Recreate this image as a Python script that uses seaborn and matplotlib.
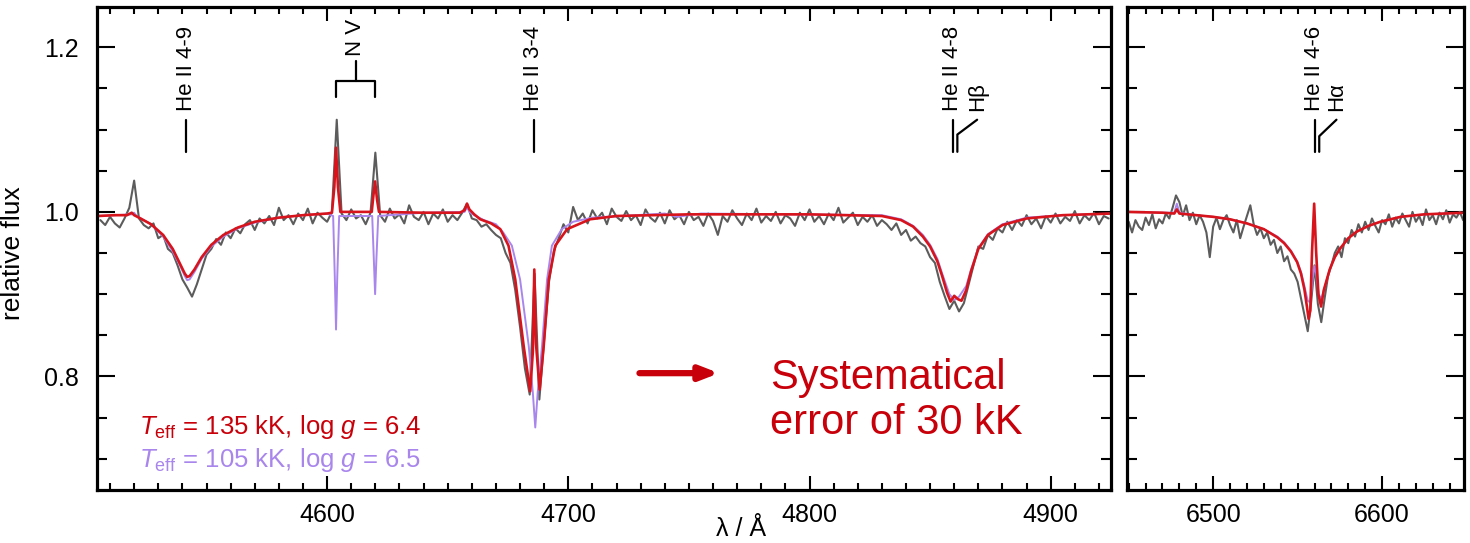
import numpy as np
import pandas as pd
import matplotlib
matplotlib.use("Agg")
import matplotlib.pyplot as plt
from matplotlib.ticker import MultipleLocator, FormatStrFormatter
import seaborn as sns

# ---------------- data ----------------
# observed spectrum, blue panel (2 A sampling starting 4506 A)
obs_blue_start, obs_blue_step = 4506, 2
obs_blue_flux = [
    0.990, 0.984, 0.994, 0.986, 0.981, 0.992, 1.005, 1.038, 0.992, 0.984,
    0.980, 0.986, 0.968, 0.972, 0.955, 0.950, 0.935, 0.918, 0.908, 0.897,
    0.912, 0.930, 0.948, 0.955, 0.967, 0.960, 0.975, 0.968, 0.980, 0.974,
    0.985, 0.990, 0.978, 0.992, 0.986, 0.995, 0.984, 1.005, 0.990, 0.996,
    0.985, 0.998, 0.990, 1.004, 0.986, 0.999, 0.993, 0.988, 1.000, 1.112,
    0.998, 0.990, 1.003, 0.992, 0.996, 0.985, 0.999, 1.072, 0.996, 0.988,
    1.004, 0.992, 0.997, 0.986, 1.008, 0.994, 0.990, 1.000, 0.985, 0.998,
    0.992, 1.003, 0.988, 0.996, 0.990, 0.999, 1.010, 0.992, 0.990, 0.982,
    0.985, 0.978, 0.972, 0.968, 0.950, 0.938, 0.905, 0.860, 0.810, 0.778,
    0.925, 0.772, 0.845, 0.915, 0.952, 0.968, 0.985, 0.975, 1.006, 0.990,
    0.998, 0.986, 1.002, 0.992, 0.999, 0.985, 1.004, 0.994, 0.989, 1.001,
    0.990, 0.996, 0.984, 1.003, 0.993, 0.988, 0.999, 0.986, 1.002, 0.991,
    0.996, 0.985, 1.000, 0.990, 0.994, 0.983, 0.998, 0.989, 0.972, 0.995,
    0.988, 1.002, 0.992, 0.984, 0.998, 0.990, 1.004, 0.987, 0.995, 0.989,
    1.000, 0.986, 0.996, 0.992, 0.983, 0.999, 0.990, 1.003, 0.988, 0.995,
    0.985, 0.998, 0.990, 1.005, 0.987, 0.993, 0.999, 0.984, 0.994, 0.988,
    0.996, 0.983, 0.990, 0.985, 0.978, 0.986, 0.972, 0.978, 0.965, 0.970,
    0.962, 0.958, 0.945, 0.938, 0.915, 0.898, 0.882, 0.892, 0.879, 0.889,
    0.912, 0.935, 0.958, 0.955, 0.972, 0.966, 0.980, 0.975, 0.988, 0.978,
    0.990, 0.983, 0.996, 0.985, 0.992, 0.980, 0.995, 0.987, 0.998, 0.986,
    0.994, 0.989, 1.001, 0.986, 0.996, 0.990, 0.999, 0.985, 0.995, 0.992,
]
# observed spectrum, H-alpha panel (2 A sampling starting 6450 A)
obs_red_start, obs_red_step = 6450, 2
obs_red_flux = [
    0.988, 0.975, 0.990, 0.982, 0.978, 0.993, 0.984, 0.997, 0.980, 0.991,
    0.986, 0.998, 0.992, 1.005, 1.020, 1.012, 0.995, 1.008, 0.990, 0.999,
    0.985, 0.996, 0.988, 0.975, 0.945, 0.982, 0.993, 0.979, 0.990, 0.996,
    0.984, 0.975, 0.990, 0.968, 0.982, 0.995, 1.008, 0.985, 0.972, 0.980,
    0.968, 0.975, 0.960, 0.966, 0.950, 0.958, 0.940, 0.946, 0.930, 0.925,
    0.915, 0.895, 0.875, 0.855, 0.890, 0.935, 0.888, 0.866, 0.895, 0.922,
    0.935, 0.950, 0.958, 0.945, 0.968, 0.962, 0.978, 0.970, 0.985, 0.975,
    0.988, 0.978, 0.992, 0.983, 0.975, 0.990, 0.985, 0.997, 0.982, 0.993,
    0.986, 0.998, 0.990, 0.982, 1.000, 0.988, 0.995, 0.984, 1.003, 0.990,
    0.996, 0.985, 0.999, 0.991, 1.002, 0.987, 0.997, 0.993, 1.000, 0.990,
]

# model 135 kK, log g 6.4 (red)
m135_blue_wave = [4505, 4512, 4517, 4519, 4520, 4522, 4527, 4532, 4536, 4539,
                  4541, 4542, 4543, 4545, 4548, 4552, 4557, 4563, 4570, 4580,
                  4590, 4600, 4602, 4603, 4603.7, 4604.5, 4605.5, 4618.5, 4619.2, 4619.9,
                  4620.7, 4621.5, 4640, 4655, 4657, 4658, 4659, 4661, 4663.5, 4668,
                  4671.8, 4675.2, 4678, 4681.5, 4684.2, 4685.3, 4685.9, 4686.6, 4688.1, 4689.8,
                  4691.9, 4694.6, 4699.5, 4709, 4720, 4750, 4800, 4830, 4838, 4843,
                  4847, 4850, 4853, 4855, 4857, 4858.5, 4860, 4861.5, 4863, 4865,
                  4867, 4870, 4874, 4880, 4890, 4905, 4925]
m135_blue_flux = [0.995, 0.996, 0.996, 0.999, 0.996, 0.993, 0.985, 0.972, 0.955, 0.937,
                  0.925, 0.921, 0.922, 0.930, 0.945, 0.960, 0.972, 0.981, 0.988, 0.993,
                  0.996, 0.998, 0.999, 1.030, 1.078, 1.030, 1.000, 1.000, 1.020, 1.037,
                  1.015, 1.000, 0.999, 0.999, 1.002, 1.010, 1.003, 0.997, 0.991, 0.986,
                  0.979, 0.959, 0.918, 0.837, 0.782, 0.830, 0.930, 0.840, 0.784, 0.837,
                  0.918, 0.959, 0.979, 0.991, 0.995, 0.997, 0.997, 0.995, 0.990, 0.982,
                  0.970, 0.958, 0.940, 0.922, 0.902, 0.891, 0.898, 0.894, 0.892, 0.905,
                  0.928, 0.955, 0.972, 0.984, 0.992, 0.996, 0.998]
m135_red_wave = [6449, 6470, 6477, 6478.5, 6480, 6490, 6500, 6510, 6520, 6530,
                 6538, 6542, 6546, 6549.7, 6552, 6554, 6555.5, 6556.5, 6557.5, 6558.5,
                 6559.8, 6561, 6562.3, 6563.9, 6565.5, 6569, 6572, 6575, 6580, 6585,
                 6592, 6599, 6611, 6625, 6649]
m135_red_flux = [1.000, 0.999, 0.998, 1.003, 0.998, 0.996, 0.994, 0.991, 0.986, 0.979,
                 0.969, 0.962, 0.952, 0.939, 0.925, 0.906, 0.885, 0.870, 0.880, 0.950,
                 1.010, 0.950, 0.900, 0.885, 0.905, 0.930, 0.945, 0.955, 0.968, 0.976,
                 0.983, 0.988, 0.994, 0.997, 0.999]

# model 105 kK, log g 6.5 (purple)
m105_blue_wave = [4505, 4519, 4520, 4521, 4527, 4532, 4536, 4539, 4541, 4542,
                  4543, 4545, 4548, 4552, 4557, 4563, 4570, 4580, 4590, 4600,
                  4602.5, 4603.2, 4603.7, 4604.2, 4605, 4618.7, 4619.4, 4619.9, 4620.4, 4621.2,
                  4640, 4657, 4658, 4659, 4661, 4665, 4670, 4673, 4676.6, 4680,
                  4683.6, 4685.3, 4686.3, 4687.3, 4689.1, 4691.2, 4693.2, 4697.3, 4702, 4710,
                  4740, 4745, 4750, 4755, 4830, 4838, 4843, 4847, 4850, 4853,
                  4855, 4858, 4860, 4862, 4865, 4867, 4870, 4874, 4880, 4890,
                  4905, 4925]
m105_blue_flux = [0.995, 0.997, 0.999, 0.995, 0.985, 0.970, 0.952, 0.935, 0.922, 0.917,
                  0.918, 0.927, 0.943, 0.958, 0.970, 0.980, 0.987, 0.993, 0.996, 0.998,
                  0.995, 0.920, 0.857, 0.920, 0.995, 0.995, 0.940, 0.900, 0.940, 0.995,
                  0.999, 1.000, 1.006, 1.000, 0.996, 0.990, 0.985, 0.975, 0.959, 0.918,
                  0.837, 0.780, 0.738, 0.780, 0.837, 0.918, 0.959, 0.979, 0.988, 0.993,
                  0.998, 0.994, 0.996, 0.998, 0.996, 0.991, 0.983, 0.972, 0.960, 0.943,
                  0.925, 0.900, 0.893, 0.897, 0.910, 0.930, 0.956, 0.973, 0.985, 0.993,
                  0.996, 0.998]
m105_red_wave = [6449, 6470, 6477, 6478.5, 6480, 6490, 6500, 6510, 6520, 6530,
                 6538, 6542, 6546, 6549.7, 6552, 6554, 6556, 6557.5, 6559, 6560,
                 6561, 6562.5, 6564, 6566, 6569, 6572, 6575, 6580, 6585, 6592,
                 6599, 6611, 6625, 6649]
m105_red_flux = [1.000, 0.999, 0.999, 1.010, 0.999, 0.996, 0.994, 0.991, 0.986, 0.979,
                 0.970, 0.963, 0.953, 0.940, 0.927, 0.910, 0.892, 0.890, 0.920, 0.934,
                 0.925, 0.900, 0.894, 0.908, 0.930, 0.945, 0.955, 0.968, 0.976, 0.983,
                 0.988, 0.994, 0.997, 0.999]

legend_lines = [r"$T_{\rm eff}$ = 135 kK, log $g$ = 6.4",
                r"$T_{\rm eff}$ = 105 kK, log $g$ = 6.5"]
annotation_text = "Systematical\nerror of 30 kK"

# line identifications (wavelengths in Angstrom)
heii49 = 4541.6
nv_lines = [4603.7, 4619.9]
heii34 = 4685.7
heii48, hbeta = 4859.3, 4861.3
heii46, halpha = 6560.1, 6562.8

# ---------------- style ----------------
sns.set_theme(style="ticks")
plt.rcParams["font.family"] = ["Liberation Sans", "DejaVu Sans"]
plt.rcParams["mathtext.fontset"] = "custom"
plt.rcParams["mathtext.rm"] = "Liberation Sans"
plt.rcParams["mathtext.it"] = "Liberation Sans:italic"
plt.rcParams["mathtext.bf"] = "Liberation Sans:bold"
plt.rcParams["text.color"] = "black"
plt.rcParams["axes.labelcolor"] = "black"

C_OBS = "#5c5c5c"
C_135 = "#d7141c"
C_105 = "#a986ec"
C_TXT_RED = "#c8000a"

fig = plt.figure(figsize=(14.7, 5.43), dpi=100)
axL = fig.add_axes([97/1470, 53/543, 1014/1470, 483/543])
axR = fig.add_axes([1127/1470, 53/543, 337/1470, 483/543])

obs_blue_wave = obs_blue_start + obs_blue_step * np.arange(len(obs_blue_flux))
obs_red_wave = obs_red_start + obs_red_step * np.arange(len(obs_red_flux))

def draw(ax, ow, of, pw, pf, rw, rf):
    sns.lineplot(x=ow, y=of, ax=ax, color=C_OBS, lw=1.5, estimator=None, sort=False, legend=False)
    sns.lineplot(x=pw, y=pf, ax=ax, color=C_105, lw=1.4, estimator=None, sort=False, legend=False)
    sns.lineplot(x=rw, y=rf, ax=ax, color=C_135, lw=1.9, estimator=None, sort=False, legend=False)

draw(axL, obs_blue_wave, obs_blue_flux, m105_blue_wave, m105_blue_flux, m135_blue_wave, m135_blue_flux)
draw(axR, obs_red_wave, obs_red_flux, m105_red_wave, m105_red_flux, m135_red_wave, m135_red_flux)

YLIM = (0.662, 1.249)
axL.set_xlim(4504.6, 4925)
axR.set_xlim(6449, 6648.5)
for ax in (axL, axR):
    ax.set_ylim(*YLIM)
    ax.set_xlabel("")
    ax.set_ylabel("")
    ax.xaxis.set_major_locator(MultipleLocator(100))
    ax.xaxis.set_minor_locator(MultipleLocator(10))
    ax.yaxis.set_major_locator(MultipleLocator(0.2))
    ax.yaxis.set_minor_locator(MultipleLocator(0.05))
    ax.yaxis.set_major_formatter(FormatStrFormatter("%.1f"))
    ax.tick_params(axis="both", which="both", direction="in", top=True, right=True,
                   width=1.5, colors="black", labelsize=18)
    ax.tick_params(axis="x", which="major", length=10, pad=9)
    ax.tick_params(axis="x", which="minor", length=5)
    ax.tick_params(axis="y", which="major", length=13, pad=13)
    ax.tick_params(axis="y", which="minor", length=7)
    for s in ax.spines.values():
        s.set_linewidth(2.3)
        s.set_color("black")
axR.tick_params(axis="y", labelleft=False)

axL.set_ylabel("relative flux", fontsize=19, color="black")
axL.yaxis.set_label_coords(-0.071, 0.49)
fig.text(741/1470, 1 - 529/543, "λ / Å", fontsize=18, ha="center", va="center", color="black")

# ---------------- line identifications ----------------
LBL = 16
y0, y1, yt = 1.073, 1.112, 1.122
def simple_id(ax, w, label):
    ax.plot([w, w], [y0, y1], color="black", lw=1.6)
    ax.text(w, yt, label, rotation=90, ha="center", va="bottom", fontsize=LBL, color="black")

simple_id(axL, heii49, "He II 4-9")
simple_id(axL, heii34, "He II 3-4")

# N V bracket
nv_mid = (nv_lines[0] + nv_lines[1]) / 2
axL.plot([nv_lines[0], nv_lines[0], nv_lines[1], nv_lines[1]],
         [1.140, 1.159, 1.159, 1.140], color="black", lw=1.6)
axL.plot([nv_mid, nv_mid], [1.159, 1.183], color="black", lw=1.6)
axL.text(nv_mid, 1.190, "N V", rotation=90, ha="center", va="bottom", fontsize=LBL, color="black")

def double_id(ax, w1, w2, wtxt2, ybend, lab1, lab2):
    ax.plot([w1, w1], [y0, y1], color="black", lw=1.6)
    ax.plot([w2, w2, wtxt2], [y0, ybend, y1], color="black", lw=1.6)
    ax.text(w1, yt, lab1, rotation=90, ha="center", va="bottom", fontsize=LBL, color="black")
    ax.text(wtxt2, yt, lab2, rotation=90, ha="center", va="bottom", fontsize=LBL, color="black")

double_id(axL, heii48, hbeta, 4869.5, 1.094, "He II 4-8", "Hβ")
double_id(axR, heii46, halpha, 6573.0, 1.092, "He II 4-6", "Hα")

# ---------------- legend text ----------------
axL.text(4522.0, 0.739, legend_lines[0], color=C_TXT_RED, fontsize=18.5, ha="left", va="center")
axL.text(4522.0, 0.699, legend_lines[1], color=C_105, fontsize=18.5, ha="left", va="center")

# ---------------- annotation ----------------
axL.annotate("", xy=(4762.5, 0.804), xytext=(4729.5, 0.804),
             arrowprops=dict(arrowstyle="-|>,head_length=0.9,head_width=0.35",
                             color=C_TXT_RED, lw=4.5, shrinkA=0, shrinkB=0))
axL.text(4783.5, 0.771, annotation_text, color=C_TXT_RED, fontsize=30,
         ha="left", va="center", linespacing=1.15)

fig.savefig("out.png", dpi=100)
